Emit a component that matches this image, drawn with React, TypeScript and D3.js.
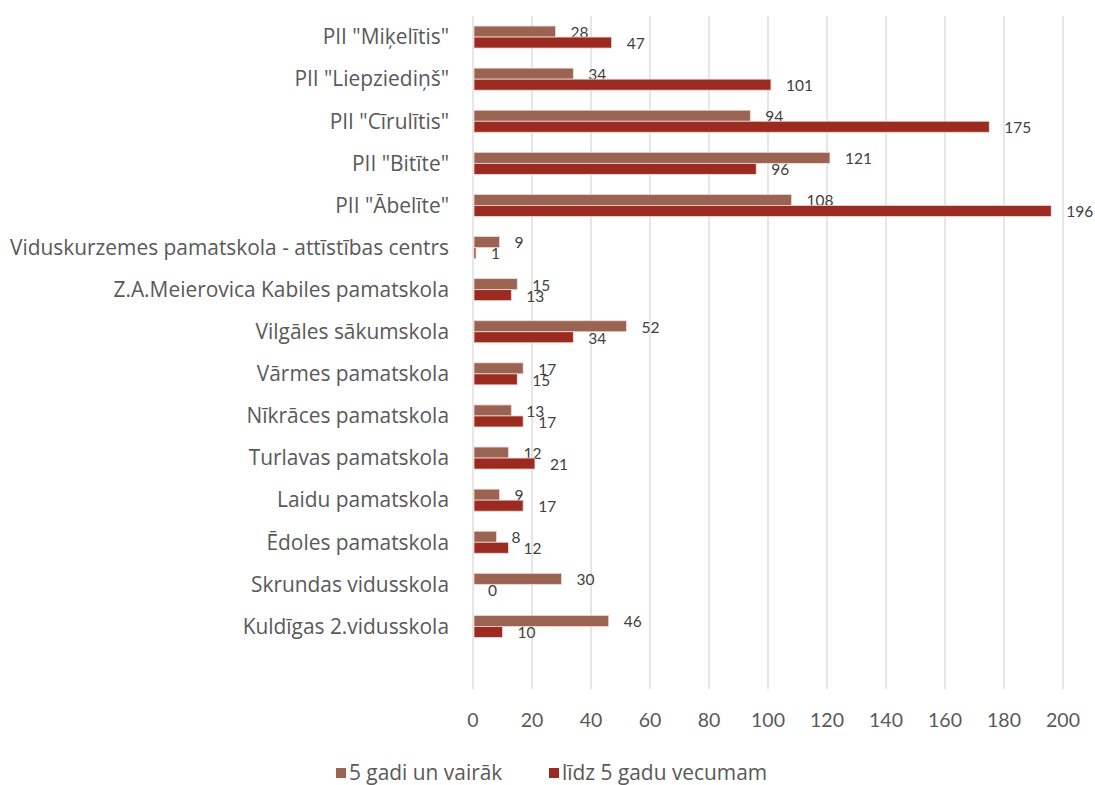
import React from 'react';
import * as d3 from 'd3';

const categories = [
  'PII "Miķelītis"',
  'PII "Liepziediņš"',
  'PII "Cīrulītis"',
  'PII "Bitīte"',
  'PII "Ābelīte"',
  'Viduskurzemes pamatskola - attīstības centrs',
  'Z.A.Meierovica Kabiles pamatskola',
  'Vilgāles sākumskola',
  'Vārmes pamatskola',
  'Nīkrāces pamatskola',
  'Turlavas pamatskola',
  'Laidu pamatskola',
  'Ēdoles pamatskola',
  'Skrundas vidusskola',
  'Kuldīgas 2.vidusskola',
  '',
];
const over5: (number | null)[] = [28, 34, 94, 121, 108, 9, 15, 52, 17, 13, 12, 9, 8, 30, 46, null];
const under5: (number | null)[] = [47, 101, 175, 96, 196, 1, 13, 34, 15, 17, 21, 17, 12, 0, 10, null];
const xTicks = [0, 20, 40, 60, 80, 100, 120, 140, 160, 180, 200];
const seriesNames = ['5 gadi un vairāk', 'līdz 5 gadu vecumam'];
const seriesColors = ['#9a6352', '#9b2b20'];

const FONT = '"Open Sans", Lato, sans-serif';
const NUMFONT = 'Lato, "Open Sans", sans-serif';

export default function App() {
  const W = 1095;
  const H = 785;
  const x = d3.scaleLinear().domain([0, 200]).range([473, 1063]);
  const keys = categories.map((_, i) => String(i));
  const y = d3.scaleBand<string>().domain(keys).range([16, 689.6]).paddingInner(0.477).paddingOuter(0.2385);
  const inner = d3.scaleBand<string>().domain(['0', '1']).range([0, y.bandwidth()]);
  const series = [over5, under5];

  return (
    <svg width={W} height={H} style={{ position: 'absolute', left: 0, top: 0, background: '#fff' }} fontFamily={FONT}>
      {xTicks.map((t) => (
        <line key={'g' + t} x1={x(t)} x2={x(t)} y1={16} y2={689} stroke="#d9d9d9" strokeWidth={1.3} />
      ))}
      {categories.map((c, i) => (
        <text key={'c' + i} x={449} y={(y(String(i)) as number) + y.bandwidth() / 2} dy="0.35em" textAnchor="end" fontSize={20.9} fill="#595959">
          {c}
        </text>
      ))}
      {series.map((vals, s) =>
        vals.map((v, i) => {
          if (v === null) return null;
          const by = (y(String(i)) as number) + (inner(String(s)) as number);
          const bh = inner.bandwidth();
          return (
            <g key={'b' + s + '-' + i}>
              {v > 0 && (
                <rect x={x(0) + 1} y={by} width={x(v) - x(0) - 1} height={bh} fill={seriesColors[s]} stroke="#efd9d4" strokeWidth={0.8} />
              )}
              <text x={x(v) + 15} y={by + bh / 2 + 1} dy="0.35em" fontSize={15.5} fill="#404040" fontFamily={NUMFONT}>
                {v}
              </text>
            </g>
          );
        })
      )}
      {xTicks.map((t) => (
        <text key={'t' + t} x={x(t)} y={720} dy="0.35em" textAnchor="middle" fontSize={19.5} fill="#595959" fontFamily={NUMFONT}>
          {t}
        </text>
      ))}
      {seriesNames.map((n, s) => {
        const lx = s === 0 ? 336 : 549;
        return (
          <g key={'l' + s}>
            <rect x={lx} y={768} width={10} height={10} fill={seriesColors[s]} />
            <text x={lx + 13} y={773} dy="0.35em" fontSize={20.9} fill="#595959">
              {n}
            </text>
          </g>
        );
      })}
    </svg>
  );
}
